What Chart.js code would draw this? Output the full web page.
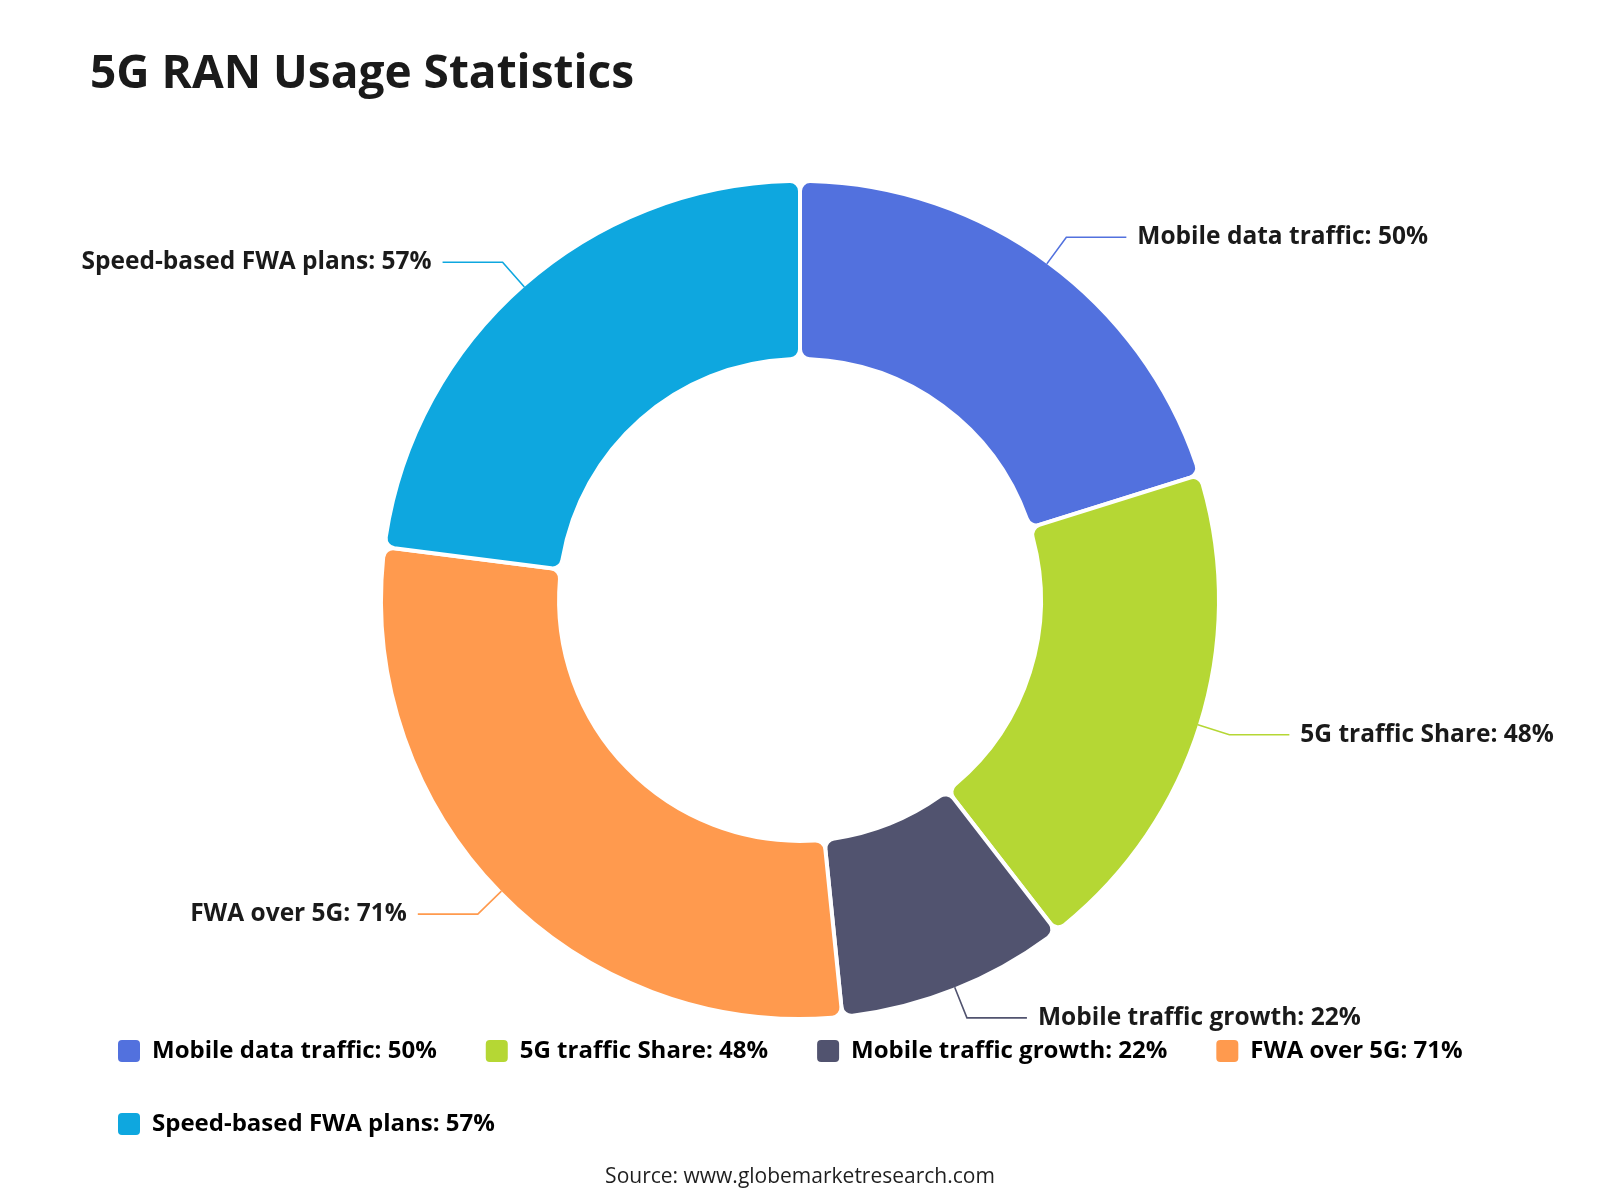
<!DOCTYPE html>
<html>
<head>
<meta charset="utf-8">
<title>5G RAN Usage Statistics</title>
<script src="https://cdn.jsdelivr.net/npm/chart.js@4.4.1/dist/chart.umd.min.js"></script>
<style>
  html, body { margin: 0; padding: 0; background: #ffffff; }
  #wrap { width: 1600px; height: 1200px; position: relative; }
</style>
</head>
<body>
<div id="wrap"><canvas id="ranChart" width="1600" height="1200"></canvas></div>
<script>
// chart data
const categories = ["Mobile data traffic", "5G traffic Share", "Mobile traffic growth", "FWA over 5G", "Speed-based FWA plans"];
const values = [50, 48, 22, 71, 57];
const colors = ["#5271de", "#b5d734", "#51536f", "#ff9a4e", "#0ea7df"];
const chart_title = "5G RAN Usage Statistics";
const source_text = "Source: www.globemarketresearch.com";

const labels = categories.map((c, i) => `${c}: ${values[i]}%`);
const FONT = "'Open Sans', 'Noto Sans', sans-serif";

// draws the title, the source line and the callouts with leader lines
const calloutPlugin = {
  id: 'callouts',
  afterDatasetsDraw(chart) {
    const ctx = chart.ctx;
    const meta = chart.getDatasetMeta(0);
    ctx.save();
    meta.data.forEach((arc, i) => {
      const { x, y, startAngle, endAngle, outerRadius } = arc.getProps(['x', 'y', 'startAngle', 'endAngle', 'outerRadius'], true);
      const mid = (startAngle + endAngle) / 2;
      const cos = Math.cos(mid), sin = Math.sin(mid);
      const r0 = outerRadius - 2;
      const r1 = outerRadius + 31;
      const x0 = x + cos * r0, y0 = y + sin * r0;
      const x1 = x + cos * r1, y1 = y + sin * r1;
      const dir = cos >= 0 ? 1 : -1;
      const x2 = x1 + dir * 60;

      ctx.strokeStyle = colors[i];
      ctx.lineWidth = 1.6;
      ctx.beginPath();
      ctx.moveTo(x0, y0);
      ctx.lineTo(x1, y1);
      ctx.lineTo(x2, y1);
      ctx.stroke();

      ctx.fillStyle = '#1a1a1a';
      ctx.font = `bold 24.5px ${FONT}`;
      ctx.textBaseline = 'middle';
      ctx.textAlign = dir > 0 ? 'left' : 'right';
      ctx.fillText(labels[i], x2 + dir * 11, y1);
    });
    ctx.restore();
  },
  afterDraw(chart) {
    const ctx = chart.ctx;
    ctx.save();
    ctx.fillStyle = '#1a1a1a';
    ctx.font = `bold 46px ${FONT}`;
    ctx.textBaseline = 'alphabetic';
    ctx.textAlign = 'left';
    ctx.fillText(chart_title, 90, 88);

    ctx.font = `21px ${FONT}`;
    ctx.fillStyle = '#1f1f1f';
    ctx.textAlign = 'center';
    ctx.textBaseline = 'middle';
    ctx.fillText(source_text, 800, 1177);
    ctx.restore();
  }
};

const ctx = document.getElementById('ranChart').getContext('2d');
const chart = new Chart(ctx, {
  type: 'doughnut',
  data: {
    labels: labels,
    datasets: [{
      data: values,
      backgroundColor: colors,
      borderColor: '#ffffff',
      borderWidth: 4,
      borderRadius: 10,
      radius: 419,
      cutout: '57.5%',
      clip: false
    }]
  },
  options: {
    responsive: false,
    animation: false,
    layout: {
      padding: { top: 210, bottom: 54, left: 69, right: 69 }
    },
    plugins: {
      title: { display: false },
      tooltip: { enabled: false },
      legend: {
        display: true,
        position: 'bottom',
        align: 'start',
        labels: {
          boxWidth: 22,
          boxHeight: 22,
          padding: 49,
          useBorderRadius: true,
          borderRadius: 4,
          color: '#1a1a1a',
          font: { family: FONT, size: 24, weight: 'bold' },
          generateLabels: (c) => labels.map((text, i) => ({
            text: text,
            fillStyle: colors[i],
            strokeStyle: colors[i],
            lineWidth: 0,
            hidden: false,
            index: i,
            borderRadius: 4
          }))
        }
      }
    }
  },
  plugins: [calloutPlugin]
});
</script>
</body>
</html>
